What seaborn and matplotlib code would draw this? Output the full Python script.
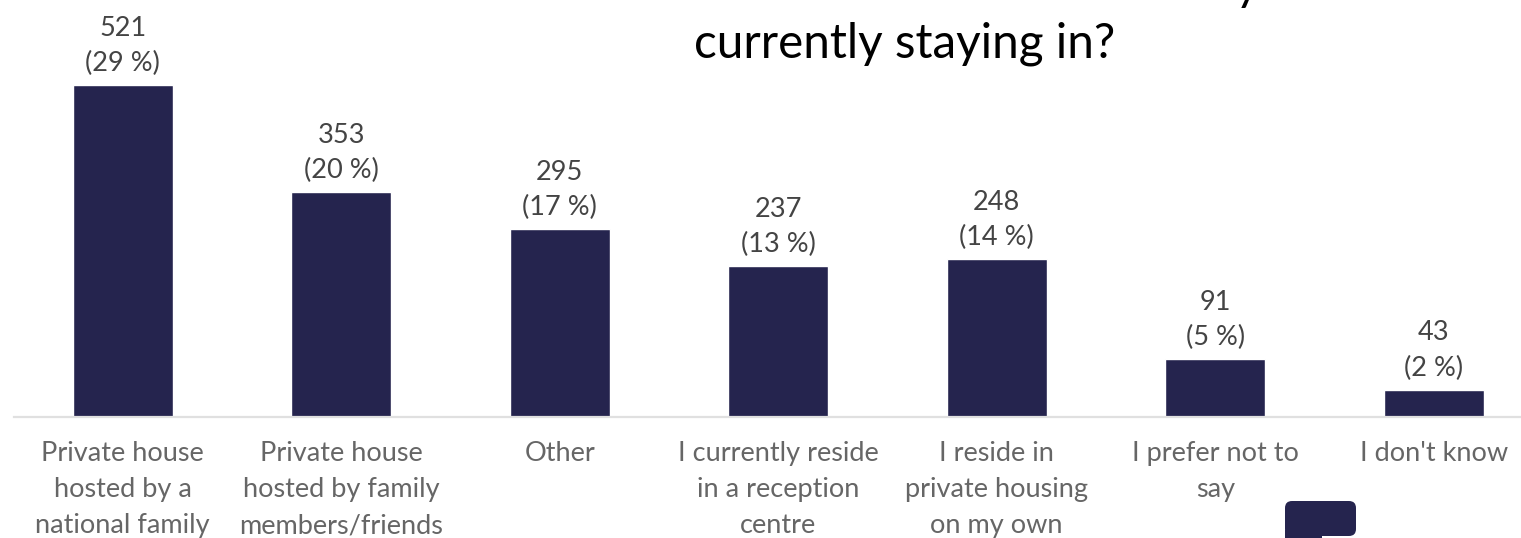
import matplotlib
matplotlib.use("Agg")
import matplotlib.pyplot as plt
from matplotlib.patches import FancyBboxPatch, Rectangle
import pandas as pd
import seaborn as sns

categories = [
    "Private house\nhosted by a\nnational family",
    "Private house\nhosted by family\nmembers/friends",
    "Other",
    "I currently reside\nin a reception\ncentre",
    "I reside in\nprivate housing\non my own",
    "I prefer not to\nsay",
    "I don't know",
]
counts = [521, 353, 295, 237, 248, 91, 43]
shares = [29, 20, 17, 13, 14, 5, 2]

W, H = 1521, 538
NAVY = "#25244e"

sns.set_theme(style="white")
plt.rcParams["font.family"] = ["Lato", "DejaVu Sans"]

df = pd.DataFrame({"category": categories, "count": counts})

fig = plt.figure(figsize=(W / 100, H / 100), dpi=100)
# the plot runs past the right edge of the picture, like the original
ax = fig.add_axes([13.5 / W, (H - 417) / H, 1529.5 / W, 417 / H])
sns.barplot(data=df, x="category", y="count", color=NAVY, saturation=1, width=0.459, ax=ax)

ax.set_xlim(-0.5, 6.5)
ax.set_ylim(0, 417 / 0.637)
ax.set_xlabel("")
ax.set_ylabel("")
ax.set_yticks([])
sns.despine(ax=ax, left=True)
ax.spines["bottom"].set_color("#e0e0e0")
ax.spines["bottom"].set_linewidth(1.6)
ax.tick_params(axis="x", length=0, pad=17, labelsize=19.5, labelcolor="#666666")
for lab in ax.get_xticklabels():
    lab.set_linespacing(1.57)

for i, (c, s) in enumerate(zip(counts, shares)):
    ax.annotate(f"{c}\n({s} %)", (i, c), xytext=(0, 6.3), textcoords="offset points",
                ha="center", va="bottom", fontsize=19.5, color="#444444", linespacing=1.53,
                annotation_clip=False)

# title is cut off by the top edge of the picture
fig.text(905 / W, 1 - 58 / H, "What kind of house or location are you\ncurrently staying in?",
         ha="center", va="baseline", fontsize=34.3, color="black", linespacing=1.395)

# chat bubble in the bottom right corner
bubble = FancyBboxPatch((1285, H - 536), 71, 35, boxstyle="round,pad=0,rounding_size=7",
                        fc=NAVY, ec="none", transform=None)
fig.add_artist(bubble)
fig.add_artist(Rectangle((1285, H - 540), 37, 10, fc=NAVY, ec="none", transform=None))

fig.savefig("out.png", dpi=100)
